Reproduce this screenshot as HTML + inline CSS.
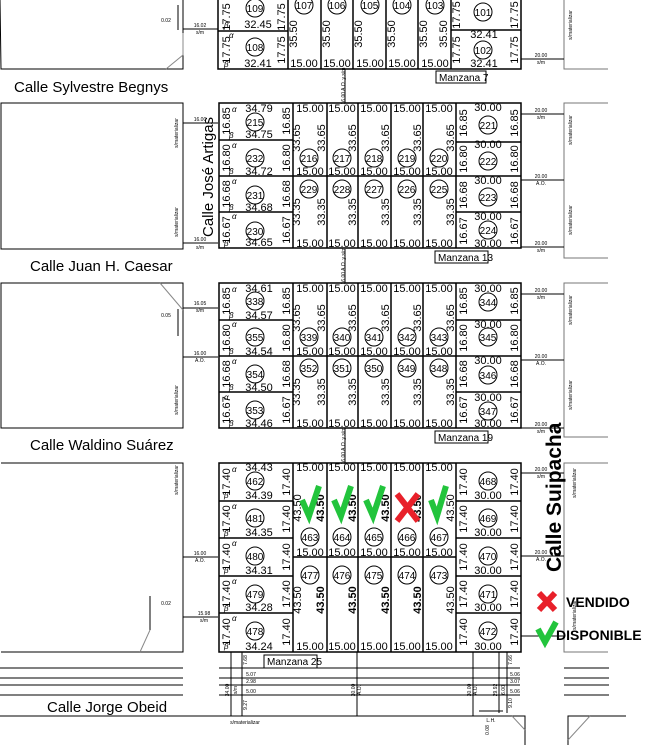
<!DOCTYPE html>
<html><head><meta charset="utf-8"><style>
html,body{margin:0;padding:0;background:#fff}
svg{display:block}
text{font-family:"Liberation Sans",sans-serif;fill:#000}
.n{font-size:11px}
.c{font-size:10px;text-anchor:middle}
.s{font-size:5px}
.g{font-size:8px;font-style:italic}
.m{text-anchor:middle}
</style></head><body>
<svg width="654" height="745" viewBox="0 0 654 745" xmlns="http://www.w3.org/2000/svg">
<g stroke="#000" fill="none" stroke-width="1">
<polyline points="0,0 1,69 183,69 183,0"/>
<rect x="1" y="103" width="182" height="146"/>
<rect x="1" y="283" width="182" height="145"/>
<polyline points="1,463 183,463 183,652 1,652"/>
<polyline points="564,0 564,69 608,69" stroke="#777"/>
<polyline points="608,103 564,103 564,258 608,258" stroke="#777"/>
<polyline points="608,283 564,283 564,437 608,437" stroke="#777"/>
<polyline points="608,463 564,463 564,652 608,652" stroke="#777"/>
<line x1="521" y1="59" x2="564" y2="59"/>
<line x1="521" y1="114" x2="564" y2="114"/><line x1="521" y1="180" x2="564" y2="180"/><line x1="521" y1="247" x2="564" y2="247"/>
<line x1="521" y1="294" x2="564" y2="294"/><line x1="521" y1="360" x2="564" y2="360"/><line x1="521" y1="428" x2="564" y2="428"/>
<line x1="521" y1="473" x2="564" y2="473"/><line x1="521" y1="556" x2="564" y2="556"/><line x1="521" y1="636" x2="564" y2="636"/>
<line x1="183" y1="29" x2="218" y2="29"/>
<line x1="183" y1="123" x2="218" y2="123"/><line x1="183" y1="243" x2="218" y2="243"/>
<line x1="183" y1="308" x2="218" y2="308"/><line x1="183" y1="357" x2="218" y2="357"/>
<line x1="183" y1="557" x2="218" y2="557"/><line x1="183" y1="617" x2="218" y2="617"/>
<line x1="178" y1="309" x2="178" y2="336"/><line x1="150" y1="596" x2="150" y2="630"/>
<line x1="178" y1="5" x2="178" y2="30"/>
<line x1="345" y1="69" x2="345" y2="103"/><line x1="345" y1="249" x2="345" y2="283"/><line x1="345" y1="428" x2="345" y2="463"/>
<polyline points="183,33 183,55 166,69" stroke="#888"/><polyline points="160,283 183,310" stroke="#888"/><polyline points="150,630 140,652" stroke="#888"/>
<g>
<line x1="0" y1="668" x2="183" y2="668"/><line x1="0" y1="678" x2="183" y2="678"/><line x1="0" y1="685" x2="183" y2="685"/><line x1="0" y1="695" x2="183" y2="695"/>
<line x1="219" y1="668" x2="520" y2="668"/><line x1="219" y1="678" x2="520" y2="678"/><line x1="219" y1="685" x2="520" y2="685"/><line x1="219" y1="695" x2="520" y2="695"/>
<line x1="564" y1="668" x2="609" y2="668"/><line x1="564" y1="678" x2="609" y2="678"/><line x1="564" y1="685" x2="609" y2="685"/><line x1="564" y1="695" x2="609" y2="695"/>
<line x1="231" y1="652" x2="231" y2="716"/><line x1="242" y1="652" x2="242" y2="716"/><line x1="357" y1="652" x2="357" y2="716"/>
<line x1="473" y1="652" x2="473" y2="716"/><line x1="499" y1="652" x2="499" y2="713"/><line x1="507" y1="652" x2="507" y2="713"/>
<line x1="479" y1="711" x2="503" y2="711"/>
<polyline points="0,716 525,716 525,745"/>
<polyline points="568,745 568,716 626,716"/>
<line x1="568" y1="740" x2="590" y2="716" stroke="#888"/><line x1="512" y1="716" x2="525" y2="730" stroke="#888"/>
</g>
</g>

<g stroke="#000" fill="none" stroke-width="1.5">
<polyline points="218,0 218,69 521,69 521,0"/>
<line x1="288" y1="0" x2="288" y2="69"/><line x1="321" y1="0" x2="321" y2="69"/><line x1="353" y1="0" x2="353" y2="69"/><line x1="386" y1="0" x2="386" y2="69"/><line x1="418" y1="0" x2="418" y2="69"/><line x1="451" y1="0" x2="451" y2="69"/>
<line x1="218" y1="31" x2="288" y2="31"/><line x1="451" y1="30" x2="521" y2="30"/>
<g><rect x="219" y="103" width="302" height="145"/>
<line x1="293" y1="103" x2="293" y2="248"/><line x1="327" y1="103" x2="327" y2="248"/><line x1="358" y1="103" x2="358" y2="248"/><line x1="391" y1="103" x2="391" y2="248"/><line x1="423" y1="103" x2="423" y2="248"/><line x1="456" y1="103" x2="456" y2="248"/>
<line x1="219" y1="140" x2="293" y2="140"/><line x1="219" y1="176" x2="521" y2="176"/><line x1="219" y1="212" x2="293" y2="212"/>
<line x1="456" y1="142" x2="521" y2="142"/><line x1="456" y1="212" x2="521" y2="212"/></g>
<g transform="translate(0,180)"><rect x="219" y="103" width="302" height="145"/>
<line x1="293" y1="103" x2="293" y2="248"/><line x1="327" y1="103" x2="327" y2="248"/><line x1="358" y1="103" x2="358" y2="248"/><line x1="391" y1="103" x2="391" y2="248"/><line x1="423" y1="103" x2="423" y2="248"/><line x1="456" y1="103" x2="456" y2="248"/>
<line x1="219" y1="140" x2="293" y2="140"/><line x1="219" y1="176" x2="521" y2="176"/><line x1="219" y1="212" x2="293" y2="212"/>
<line x1="456" y1="140" x2="521" y2="140"/><line x1="456" y1="212" x2="521" y2="212"/></g>
<rect x="219" y="463" width="302" height="189"/>
<line x1="293" y1="463" x2="293" y2="652"/><line x1="327" y1="463" x2="327" y2="652"/><line x1="358" y1="463" x2="358" y2="652"/><line x1="391" y1="463" x2="391" y2="652"/><line x1="423" y1="463" x2="423" y2="652"/><line x1="456" y1="463" x2="456" y2="652"/>
<line x1="219" y1="501" x2="293" y2="501"/><line x1="219" y1="538" x2="293" y2="538"/><line x1="219" y1="576" x2="293" y2="576"/><line x1="219" y1="613" x2="293" y2="613"/>
<line x1="456" y1="501" x2="521" y2="501"/><line x1="456" y1="538" x2="521" y2="538"/><line x1="456" y1="576" x2="521" y2="576"/><line x1="456" y1="613" x2="521" y2="613"/>
<line x1="293" y1="557" x2="456" y2="557"/>
</g>

<g stroke="#000" fill="none" stroke-width="1">
<circle cx="255" cy="8" r="9"/><circle cx="255" cy="47" r="9"/>
<circle cx="304" cy="5" r="9"/><circle cx="337" cy="5" r="9"/><circle cx="370" cy="5" r="9"/><circle cx="402" cy="5" r="9"/><circle cx="435" cy="5" r="9"/>
<circle cx="483" cy="12" r="9"/><circle cx="483" cy="50" r="9"/>
<circle cx="255" cy="122" r="9"/><circle cx="255" cy="158" r="9"/><circle cx="255" cy="195" r="9"/><circle cx="255" cy="231" r="9"/>
<circle cx="309" cy="158" r="9"/><circle cx="342" cy="158" r="9"/><circle cx="374" cy="158" r="9"/><circle cx="407" cy="158" r="9"/><circle cx="439" cy="158" r="9"/>
<circle cx="309" cy="189" r="9"/><circle cx="342" cy="189" r="9"/><circle cx="374" cy="189" r="9"/><circle cx="407" cy="189" r="9"/><circle cx="439" cy="189" r="9"/>
<circle cx="488" cy="125" r="9"/><circle cx="488" cy="161" r="9"/><circle cx="488" cy="197" r="9"/><circle cx="488" cy="230" r="9"/>
<circle cx="255" cy="301" r="9"/><circle cx="255" cy="337" r="9"/><circle cx="255" cy="374" r="9"/><circle cx="255" cy="410" r="9"/>
<circle cx="309" cy="337" r="9"/><circle cx="342" cy="337" r="9"/><circle cx="374" cy="337" r="9"/><circle cx="407" cy="337" r="9"/><circle cx="439" cy="337" r="9"/>
<circle cx="309" cy="368" r="9"/><circle cx="342" cy="368" r="9"/><circle cx="374" cy="368" r="9"/><circle cx="407" cy="368" r="9"/><circle cx="439" cy="368" r="9"/>
<circle cx="488" cy="302" r="9"/><circle cx="488" cy="337" r="9"/><circle cx="488" cy="375" r="9"/><circle cx="488" cy="411" r="9"/>
<circle cx="255" cy="481" r="9"/><circle cx="255" cy="518" r="9"/><circle cx="255" cy="556" r="9"/><circle cx="255" cy="594" r="9"/><circle cx="255" cy="631" r="9"/>
<circle cx="310" cy="537" r="9"/><circle cx="342" cy="537" r="9"/><circle cx="374" cy="537" r="9"/><circle cx="407" cy="537" r="9"/><circle cx="439" cy="537" r="9"/>
<circle cx="310" cy="575" r="9"/><circle cx="342" cy="575" r="9"/><circle cx="374" cy="575" r="9"/><circle cx="407" cy="575" r="9"/><circle cx="439" cy="575" r="9"/>
<circle cx="488" cy="481" r="9"/><circle cx="488" cy="518" r="9"/><circle cx="488" cy="556" r="9"/><circle cx="488" cy="594" r="9"/><circle cx="488" cy="631" r="9"/>
</g>

<g class="c">
<text x="255" y="12">109</text><text x="255" y="51">108</text>
<text x="304" y="9">107</text><text x="337" y="9">106</text><text x="370" y="9">105</text><text x="402" y="9">104</text><text x="435" y="9">103</text>
<text x="483" y="16">101</text><text x="483" y="54">102</text>
<text x="255" y="126">215</text><text x="255" y="162">232</text><text x="255" y="199">231</text><text x="255" y="235">230</text>
<text x="309" y="162">216</text><text x="342" y="162">217</text><text x="374" y="162">218</text><text x="407" y="162">219</text><text x="439" y="162">220</text>
<text x="309" y="193">229</text><text x="342" y="193">228</text><text x="374" y="193">227</text><text x="407" y="193">226</text><text x="439" y="193">225</text>
<text x="488" y="129">221</text><text x="488" y="165">222</text><text x="488" y="201">223</text><text x="488" y="234">224</text>
<text x="255" y="305">338</text><text x="255" y="341">355</text><text x="255" y="378">354</text><text x="255" y="414">353</text>
<text x="309" y="341">339</text><text x="342" y="341">340</text><text x="374" y="341">341</text><text x="407" y="341">342</text><text x="439" y="341">343</text>
<text x="309" y="372">352</text><text x="342" y="372">351</text><text x="374" y="372">350</text><text x="407" y="372">349</text><text x="439" y="372">348</text>
<text x="488" y="306">344</text><text x="488" y="341">345</text><text x="488" y="379">346</text><text x="488" y="415">347</text>
<text x="255" y="485">462</text><text x="255" y="522">481</text><text x="255" y="560">480</text><text x="255" y="598">479</text><text x="255" y="635">478</text>
<text x="310" y="541">463</text><text x="342" y="541">464</text><text x="374" y="541">465</text><text x="407" y="541">466</text><text x="439" y="541">467</text>
<text x="310" y="579">477</text><text x="342" y="579">476</text><text x="374" y="579">475</text><text x="407" y="579">474</text><text x="439" y="579">473</text>
<text x="488" y="485">468</text><text x="488" y="522">469</text><text x="488" y="560">470</text><text x="488" y="598">471</text><text x="488" y="635">472</text>
</g>

<g class="n m" text-anchor="middle">
<text x="258" y="28">32.45</text><text x="258" y="67">32.41</text>
<text x="304" y="67">15.00</text><text x="337" y="67">15.00</text><text x="370" y="67">15.00</text><text x="402" y="67">15.00</text><text x="435" y="67">15.00</text>
<text x="484" y="38">32.41</text><text x="484" y="67">32.41</text>
<text x="259" y="112">34.79</text><text x="259" y="138">34.75</text><text x="259" y="175">34.72</text><text x="259" y="211">34.68</text><text x="259" y="246">34.65</text>
<text x="310" y="112">15.00</text><text x="342" y="112">15.00</text><text x="374" y="112">15.00</text><text x="407" y="112">15.00</text><text x="439" y="112">15.00</text>
<text x="310" y="175">15.00</text><text x="342" y="175">15.00</text><text x="374" y="175">15.00</text><text x="407" y="175">15.00</text><text x="439" y="175">15.00</text>
<text x="310" y="247">15.00</text><text x="342" y="247">15.00</text><text x="374" y="247">15.00</text><text x="407" y="247">15.00</text><text x="439" y="247">15.00</text>
<text x="488" y="111">30.00</text><text x="488" y="148">30.00</text><text x="488" y="184">30.00</text><text x="488" y="220">30.00</text><text x="488" y="247">30.00</text>
<text x="259" y="292">34.61</text><text x="259" y="319">34.57</text><text x="259" y="355">34.54</text><text x="259" y="391">34.50</text><text x="259" y="427">34.46</text>
<text x="310" y="292">15.00</text><text x="342" y="292">15.00</text><text x="374" y="292">15.00</text><text x="407" y="292">15.00</text><text x="439" y="292">15.00</text>
<text x="310" y="355">15.00</text><text x="342" y="355">15.00</text><text x="374" y="355">15.00</text><text x="407" y="355">15.00</text><text x="439" y="355">15.00</text>
<text x="310" y="427">15.00</text><text x="342" y="427">15.00</text><text x="374" y="427">15.00</text><text x="407" y="427">15.00</text><text x="439" y="427">15.00</text>
<text x="488" y="292">30.00</text><text x="488" y="328">30.00</text><text x="488" y="364">30.00</text><text x="488" y="401">30.00</text><text x="488" y="427">30.00</text>
<text x="259" y="471">34.43</text><text x="259" y="499">34.39</text><text x="259" y="536">34.35</text><text x="259" y="574">34.31</text><text x="259" y="611">34.28</text><text x="259" y="650">34.24</text>
<text x="310" y="471">15.00</text><text x="342" y="471">15.00</text><text x="374" y="471">15.00</text><text x="407" y="471">15.00</text><text x="439" y="471">15.00</text>
<text x="310" y="556">15.00</text><text x="342" y="556">15.00</text><text x="374" y="556">15.00</text><text x="407" y="556">15.00</text><text x="439" y="556">15.00</text>
<text x="310" y="650">15.00</text><text x="342" y="650">15.00</text><text x="374" y="650">15.00</text><text x="407" y="650">15.00</text><text x="439" y="650">15.00</text>
<text x="488" y="499">30.00</text><text x="488" y="536">30.00</text><text x="488" y="574">30.00</text><text x="488" y="611">30.00</text><text x="488" y="650">30.00</text>
</g>

<g class="n" text-anchor="middle">
<text transform="translate(230,17) rotate(-90)">17.75</text><text transform="translate(230,50) rotate(-90)">17.75</text>
<text transform="translate(285,17) rotate(-90)">17.75</text><text transform="translate(285,50) rotate(-90)">17.75</text>
<text transform="translate(297,34) rotate(-90)">35.50</text><text transform="translate(330,34) rotate(-90)">35.50</text><text transform="translate(362,34) rotate(-90)">35.50</text><text transform="translate(395,34) rotate(-90)">35.50</text><text transform="translate(427,34) rotate(-90)">35.50</text><text transform="translate(447,34) rotate(-90)">35.50</text>
<text transform="translate(460,15) rotate(-90)">17.75</text><text transform="translate(460,50) rotate(-90)">17.75</text>
<text transform="translate(518,15) rotate(-90)">17.75</text><text transform="translate(518,50) rotate(-90)">17.75</text>
</g>
<g class="n" text-anchor="middle">
<text transform="translate(230,121) rotate(-90)">16.85</text><text transform="translate(230,158) rotate(-90)">16.80</text><text transform="translate(230,194) rotate(-90)">16.68</text><text transform="translate(230,230) rotate(-90)">16.67</text>
<text transform="translate(290,121) rotate(-90)">16.85</text><text transform="translate(290,158) rotate(-90)">16.80</text><text transform="translate(290,194) rotate(-90)">16.68</text><text transform="translate(290,230) rotate(-90)">16.67</text>
<text transform="translate(300,138) rotate(-90)">33.65</text><text transform="translate(325,138) rotate(-90)">33.65</text><text transform="translate(356,138) rotate(-90)">33.65</text><text transform="translate(389,138) rotate(-90)">33.65</text><text transform="translate(421,138) rotate(-90)">33.65</text><text transform="translate(454,138) rotate(-90)">33.65</text>
<text transform="translate(300,212) rotate(-90)">33.35</text><text transform="translate(325,212) rotate(-90)">33.35</text><text transform="translate(356,212) rotate(-90)">33.35</text><text transform="translate(389,212) rotate(-90)">33.35</text><text transform="translate(421,212) rotate(-90)">33.35</text><text transform="translate(454,212) rotate(-90)">33.35</text>
<text transform="translate(467,123) rotate(-90)">16.85</text><text transform="translate(467,159) rotate(-90)">16.80</text><text transform="translate(467,195) rotate(-90)">16.68</text><text transform="translate(467,231) rotate(-90)">16.67</text>
<text transform="translate(518,123) rotate(-90)">16.85</text><text transform="translate(518,159) rotate(-90)">16.80</text><text transform="translate(518,195) rotate(-90)">16.68</text><text transform="translate(518,231) rotate(-90)">16.67</text>
</g>
<g class="n" text-anchor="middle" transform="translate(0,180)">
<text transform="translate(230,121) rotate(-90)">16.85</text><text transform="translate(230,158) rotate(-90)">16.80</text><text transform="translate(230,194) rotate(-90)">16.68</text><text transform="translate(230,230) rotate(-90)">16.67</text>
<text transform="translate(290,121) rotate(-90)">16.85</text><text transform="translate(290,158) rotate(-90)">16.80</text><text transform="translate(290,194) rotate(-90)">16.68</text><text transform="translate(290,230) rotate(-90)">16.67</text>
<text transform="translate(300,138) rotate(-90)">33.65</text><text transform="translate(325,138) rotate(-90)">33.65</text><text transform="translate(356,138) rotate(-90)">33.65</text><text transform="translate(389,138) rotate(-90)">33.65</text><text transform="translate(421,138) rotate(-90)">33.65</text><text transform="translate(454,138) rotate(-90)">33.65</text>
<text transform="translate(300,212) rotate(-90)">33.35</text><text transform="translate(325,212) rotate(-90)">33.35</text><text transform="translate(356,212) rotate(-90)">33.35</text><text transform="translate(389,212) rotate(-90)">33.35</text><text transform="translate(421,212) rotate(-90)">33.35</text><text transform="translate(454,212) rotate(-90)">33.35</text>
<text transform="translate(467,121) rotate(-90)">16.85</text><text transform="translate(467,158) rotate(-90)">16.80</text><text transform="translate(467,194) rotate(-90)">16.68</text><text transform="translate(467,230) rotate(-90)">16.67</text>
<text transform="translate(518,121) rotate(-90)">16.85</text><text transform="translate(518,158) rotate(-90)">16.80</text><text transform="translate(518,194) rotate(-90)">16.68</text><text transform="translate(518,230) rotate(-90)">16.67</text>
</g>
<g class="n" text-anchor="middle">
<text transform="translate(230,482) rotate(-90)">17.40</text><text transform="translate(230,519) rotate(-90)">17.40</text><text transform="translate(230,557) rotate(-90)">17.40</text><text transform="translate(230,594) rotate(-90)">17.40</text><text transform="translate(230,632) rotate(-90)">17.40</text>
<text transform="translate(290,482) rotate(-90)">17.40</text><text transform="translate(290,519) rotate(-90)">17.40</text><text transform="translate(290,557) rotate(-90)">17.40</text><text transform="translate(290,594) rotate(-90)">17.40</text><text transform="translate(290,632) rotate(-90)">17.40</text>
<text transform="translate(467,482) rotate(-90)">17.40</text><text transform="translate(467,519) rotate(-90)">17.40</text><text transform="translate(467,557) rotate(-90)">17.40</text><text transform="translate(467,594) rotate(-90)">17.40</text><text transform="translate(467,632) rotate(-90)">17.40</text>
<text transform="translate(518,482) rotate(-90)">17.40</text><text transform="translate(518,519) rotate(-90)">17.40</text><text transform="translate(518,557) rotate(-90)">17.40</text><text transform="translate(518,594) rotate(-90)">17.40</text><text transform="translate(518,632) rotate(-90)">17.40</text>
<text transform="translate(301,508) rotate(-90)">43.50</text><text transform="translate(301,600) rotate(-90)">43.50</text><text transform="translate(454,508) rotate(-90)">43.50</text><text transform="translate(454,600) rotate(-90)">43.50</text>
</g>
<g class="n" text-anchor="middle" font-weight="bold">
<text transform="translate(324,508) rotate(-90)">43.50</text><text transform="translate(356,508) rotate(-90)">43.50</text><text transform="translate(389,508) rotate(-90)">43.50</text><text transform="translate(421,508) rotate(-90)">43.50</text>
<text transform="translate(324,600) rotate(-90)">43.50</text><text transform="translate(356,600) rotate(-90)">43.50</text><text transform="translate(389,600) rotate(-90)">43.50</text><text transform="translate(421,600) rotate(-90)">43.50</text>
</g>

<g class="g">
<text x="229" y="38">α</text><text x="224" y="28">β</text><text x="224" y="67">β</text>
<text x="232" y="112">α</text><text x="229" y="138">β</text><text x="232" y="148">α</text><text x="229" y="174">β</text><text x="232" y="184">α</text><text x="229" y="210">β</text><text x="232" y="219">α</text><text x="224" y="246">β</text>
<text x="232" y="292">α</text><text x="229" y="318">β</text><text x="232" y="327">α</text><text x="229" y="354">β</text><text x="232" y="364">α</text><text x="229" y="390">β</text><text x="224" y="400">α</text><text x="229" y="426">β</text>
<text x="232" y="472">α</text><text x="224" y="498">β</text><text x="232" y="509">α</text><text x="224" y="536">β</text><text x="232" y="546">α</text><text x="224" y="573">β</text><text x="232" y="584">α</text><text x="224" y="611">β</text><text x="232" y="621">α</text><text x="224" y="649">β</text>
</g>

<g class="s" text-anchor="middle">
<text x="200" y="27">16.02</text><text x="200" y="34">s/m</text><text x="166" y="22">0.02</text>
<text x="200" y="121">16.00</text><text x="200" y="241">16.00</text><text x="200" y="249">s/m</text>
<text x="200" y="305">16.05</text><text x="200" y="312">s/m</text><text x="166" y="317">0.05</text><text x="200" y="355">16.00</text><text x="200" y="362">A.O.</text>
<text x="200" y="555">16.00</text><text x="200" y="562">A.O.</text><text x="204" y="615">15.98</text><text x="204" y="622">s/m</text><text x="166" y="605">0.02</text>
<text x="541" y="57">20.00</text><text x="541" y="64">s/m</text>
<text x="541" y="112">20.00</text><text x="541" y="119">s/m</text><text x="541" y="178">20.00</text><text x="541" y="185">A.O.</text><text x="541" y="245">20.00</text><text x="541" y="252">s/m</text>
<text x="541" y="292">20.00</text><text x="541" y="299">s/m</text><text x="541" y="358">20.00</text><text x="541" y="365">A.O.</text><text x="541" y="426">20.00</text><text x="541" y="433">s/m</text>
<text x="541" y="471">20.00</text><text x="541" y="478">s/m</text><text x="541" y="554">20.00</text><text x="541" y="561">A.O.</text>
<text x="245" y="724">s/materializar</text>
<text transform="translate(345,86) rotate(-90)">16.00 A.O. y s/m</text>
<text transform="translate(345,266) rotate(-90)">16.00 A.O. y s/m</text>
<text transform="translate(345,446) rotate(-90)">16.00 A.O. y s/m</text>
<text transform="translate(178,133) rotate(-90)">s/materializar</text><text transform="translate(178,222) rotate(-90)">s/materializar</text>
<text transform="translate(178,400) rotate(-90)">s/materializar</text><text transform="translate(178,480) rotate(-90)">s/materializar</text>
<text transform="translate(572,25) rotate(-90)">s/materializar</text><text transform="translate(572,130) rotate(-90)">s/materializar</text><text transform="translate(572,220) rotate(-90)">s/materializar</text>
<text transform="translate(572,310) rotate(-90)">s/materializar</text><text transform="translate(572,395) rotate(-90)">s/materializar</text>
<text transform="translate(576,483) rotate(-90)">s/materializar</text><text transform="translate(576,615) rotate(-90)">s/materializar</text>
<text transform="translate(229,690) rotate(-90)">34.00</text><text transform="translate(237,690) rotate(-90)">s/m</text>
<text transform="translate(355,690) rotate(-90)">30.00</text><text transform="translate(361,690) rotate(-90)">A.O.</text>
<text transform="translate(471,690) rotate(-90)">30.00</text><text transform="translate(477,690) rotate(-90)">A.O.</text>
<text transform="translate(497,690) rotate(-90)">29.92</text><text transform="translate(505,690) rotate(-90)">6.00</text>
<text transform="translate(247,660) rotate(-90)">7.68</text><text transform="translate(247,705) rotate(-90)">9.27</text>
<text transform="translate(512,660) rotate(-90)">7.66</text><text transform="translate(512,703) rotate(-90)">9.10</text>
<text x="251" y="676">5.07</text><text x="251" y="683">2.98</text><text x="251" y="693">5.00</text>
<text x="515" y="676">5.06</text><text x="515" y="683">3.07</text><text x="515" y="693">5.06</text>
<text x="491" y="722">L.H.</text><text transform="translate(489,730) rotate(-90)">0.08</text>
</g>

<g stroke="#000" fill="#fff" stroke-width="1">
<rect x="436" y="71" width="50" height="12"/><rect x="435" y="251" width="53" height="12"/><rect x="435" y="431" width="53" height="12"/><rect x="264" y="655" width="53" height="13"/>
</g>
<g font-size="10px">
<text x="439" y="81">Manzana 7</text><text x="438" y="261">Manzana 13</text><text x="438" y="441">Manzana 19</text><text x="267" y="665">Manzana 25</text>
</g>

<g font-size="15px">
<text x="14" y="92">Calle Sylvestre Begnys</text>
<text x="30" y="271">Calle Juan H. Caesar</text>
<text x="30" y="450">Calle Waldino Suárez</text>
<text x="47" y="712">Calle Jorge Obeid</text>
<text transform="translate(213,237) rotate(-90)" font-size="15px">Calle José Artigas</text>
<text transform="translate(561,572) rotate(-90)" font-size="21px" font-weight="bold">Calle Suipacha</text>
</g>

<g stroke="#22c43c" stroke-width="6" fill="none" stroke-linecap="butt" stroke-linejoin="miter">
<polyline points="302,500 309,516 319,486"/>
<polyline points="334,500 341,516 351,486"/>
<polyline points="366,500 373,516 383,486"/>
<polyline points="431,500 437,516 446,486"/>
<polyline points="538,629 545,642 556,622"/>
</g>
<g stroke="#e8202a" stroke-width="6">
<line x1="397" y1="494" x2="418" y2="521"/><line x1="418" y1="494" x2="397" y2="521"/>
<line x1="539" y1="593" x2="555" y2="610"/><line x1="555" y1="593" x2="539" y2="610"/>
</g>
<g font-size="14px" font-weight="bold">
<text x="566" y="607">VENDIDO</text>
<text x="556" y="640">DISPONIBLE</text>
</g>
</svg>
</body></html>
